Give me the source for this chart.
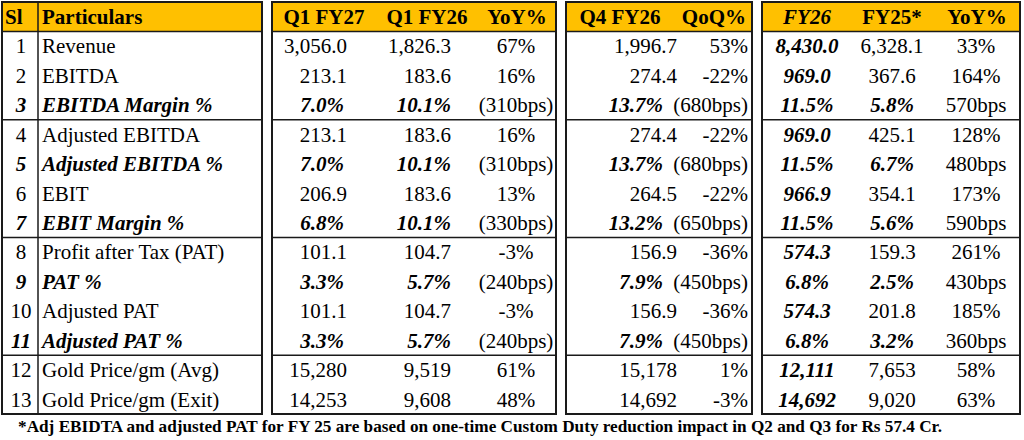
<!DOCTYPE html>
<html>
<head>
<meta charset="utf-8">
<script src="https://cdn.jsdelivr.net/npm/d3@7"></script>
<style>
  html, body { margin: 0; padding: 0; background: #fff; }
  svg text { font-family: 'Liberation Serif', 'Times New Roman', serif; fill: #000; }
</style>
</head>
<body>
<script>
// Table data, one array per column
const slNo = [1, 2, 3, 4, 5, 6, 7, 8, 9, 10, 11, 12, 13];
const particulars = [
    'Revenue',
    'EBITDA',
    'EBITDA Margin %',
    'Adjusted EBITDA',
    'Adjusted EBITDA %',
    'EBIT',
    'EBIT Margin %',
    'Profit after Tax (PAT)',
    'PAT %',
    'Adjusted PAT',
    'Adjusted PAT %',
    'Gold Price/gm (Avg)',
    'Gold Price/gm (Exit)',
];
const q1fy27 = [3056.0, 213.1, 7.0, 213.1, 7.0, 206.9, 6.8, 101.1, 3.3, 101.1, 3.3, 15280, 14253];
const q1fy26 = [1826.3, 183.6, 10.1, 183.6, 10.1, 183.6, 10.1, 104.7, 5.7, 104.7, 5.7, 9519, 9608];
const yoyQ = [67, 16, -310, 16, -310, 13, -330, -3, -240, -3, -240, 61, 48];
const q4fy26 = [1996.7, 274.4, 13.7, 274.4, 13.7, 264.5, 13.2, 156.9, 7.9, 156.9, 7.9, 15178, 14692];
const qoq = [53, -22, -680, -22, -680, -22, -650, -36, -450, -36, -450, 1, -3];
const fy26 = [8430.0, 969.0, 11.5, 969.0, 11.5, 966.9, 11.5, 574.3, 6.8, 574.3, 6.8, 12111, 14692];
const fy25 = [6328.1, 367.6, 5.8, 425.1, 6.7, 354.1, 5.6, 159.3, 2.5, 201.8, 3.2, 7653, 9020];
const yoyFY = [33, 164, 570, 128, 480, 173, 590, 261, 430, 185, 360, 58, 63];

const headers = ['Sl', 'Particulars', 'Q1 FY27', 'Q1 FY26', 'YoY%', 'Q4 FY26', 'QoQ%', 'FY26', 'FY25*', 'YoY%'];
const marginRows = [3, 5, 7, 9, 11]; // rows holding % values, change in bps
const priceRows = [12, 13];          // whole-number rows
const groupEnds = [3, 7, 11];        // a rule is drawn under these rows
const footnote =
    '*Adj EBIDTA and adjusted PAT for FY 25 are based on one-time Custom Duty reduction impact in Q2 and Q3 for Rs 57.4 Cr.';

// Formatting helpers
const fmtAmt = d3.format(',.1f');
const fmtInt = d3.format(',d');
function fmtValue(v, sl) {
    if (marginRows.includes(sl)) return d3.format('.1f')(v) + '%';
    if (priceRows.includes(sl)) return fmtInt(v);
    return fmtAmt(v);
}
function fmtChange(v, sl) {
    if (marginRows.includes(sl)) {
        return v < 0 ? '(' + Math.abs(v) + 'bps)' : v + 'bps';
    }
    return v + '%';
}

// Layout
const width = 1024;
const height = 440;
const fontSize = 21;
const headFill = '#ffc000';
const lineColor = '#1a1a1a';

const blocks = [
    { x0: 2, x1: 262 },
    { x0: 272, x1: 556 },
    { x0: 566, x1: 752 },
    { x0: 762, x1: 1020 },
];

// columns: value position + anchor, header position + anchor
// pctShift moves the % rows of right-aligned columns (Excel padding)
const columns = [
    { key: 'sl', data: slNo, x: 21, anchor: 'middle', hx: 5, hanchor: 'start' },
    { key: 'part', data: particulars, x: 42, anchor: 'start', hx: 42, hanchor: 'start' },
    { key: 'q1fy27', data: q1fy27, x: 347, anchor: 'end', hx: 324, hanchor: 'middle', value: true, pctShift: -3 },
    { key: 'q1fy26', data: q1fy26, x: 451, anchor: 'end', hx: 427, hanchor: 'middle', value: true },
    { key: 'yoyQ', data: yoyQ, x: 516, anchor: 'middle', hx: 517, hanchor: 'middle', change: true },
    { key: 'q4fy26', data: q4fy26, x: 677, anchor: 'end', hx: 620, hanchor: 'middle', value: true, pctShift: -14 },
    { key: 'qoq', data: qoq, x: 748, anchor: 'end', hx: 746, hanchor: 'end', change: true },
    { key: 'fy26', data: fy26, x: 807, anchor: 'middle', hx: 807, hanchor: 'middle', value: true, always: true },
    { key: 'fy25', data: fy25, x: 892, anchor: 'middle', hx: 892, hanchor: 'middle', value: true },
    { key: 'yoyFY', data: yoyFY, x: 976, anchor: 'middle', hx: 977, hanchor: 'middle', change: true },
];

const yScale = d3
    .scaleBand()
    .domain(['head'].concat(slNo))
    .range([2, 414])
    .padding(0);

const svg = d3
    .select('body')
    .append('svg')
    .attr('width', width)
    .attr('height', height);

// header bands
svg.selectAll('rect.head')
    .data(blocks)
    .join('rect')
    .attr('class', 'head')
    .attr('x', (b) => b.x0)
    .attr('y', yScale('head'))
    .attr('width', (b) => b.x1 - b.x0)
    .attr('height', yScale.bandwidth())
    .attr('fill', headFill);

// group rules (header bottom + group ends)
const ruleYs = [yScale(1)].concat(groupEnds.map((r) => yScale(r) + yScale.bandwidth()));
blocks.forEach((b) => {
    svg.selectAll(null)
        .data(ruleYs)
        .join('line')
        .attr('x1', b.x0)
        .attr('x2', b.x1)
        .attr('y1', (y) => y)
        .attr('y2', (y) => y)
        .attr('stroke', lineColor)
        .attr('stroke-width', 1.5);
});

// Sl | Particulars divider
svg.append('line')
    .attr('x1', 38)
    .attr('x2', 38)
    .attr('y1', yScale('head'))
    .attr('y2', yScale(13) + yScale.bandwidth())
    .attr('stroke', lineColor)
    .attr('stroke-width', 1.5);

// outer block frames
svg.selectAll('rect.frame')
    .data(blocks)
    .join('rect')
    .attr('class', 'frame')
    .attr('x', (b) => b.x0)
    .attr('y', yScale('head'))
    .attr('width', (b) => b.x1 - b.x0)
    .attr('height', yScale(13) + yScale.bandwidth() - yScale('head'))
    .attr('fill', 'none')
    .attr('stroke', lineColor)
    .attr('stroke-width', 2);

const midY = (k) => yScale(k) + yScale.bandwidth() / 2;

// header texts
svg.selectAll('text.hdr')
    .data(columns)
    .join('text')
    .attr('class', 'hdr')
    .attr('x', (c) => c.hx)
    .attr('y', midY('head'))
    .attr('dy', '0.35em')
    .attr('text-anchor', (c) => c.hanchor)
    .style('font-size', fontSize + 'px')
    .style('font-weight', 'bold')
    .style('font-style', (c) => (c.always ? 'italic' : 'normal'))
    .text((c, i) => headers[i]);

// body cells
const cells = [];
columns.forEach((c) => {
    slNo.forEach((sl, i) => {
        const margin = marginRows.includes(sl);
        let txt;
        if (c.value) txt = fmtValue(c.data[i], sl);
        else if (c.change) txt = fmtChange(c.data[i], sl);
        else txt = String(c.data[i]);
        const emph = c.always || (margin && !c.change);
        const x = c.x + (margin && c.pctShift ? c.pctShift : 0);
        cells.push({ col: c, sl: sl, txt: txt, emph: emph, x: x });
    });
});

svg.selectAll('text.cell')
    .data(cells)
    .join('text')
    .attr('class', 'cell')
    .attr('x', (d) => d.x)
    .attr('y', (d) => midY(d.sl))
    .attr('dy', '0.35em')
    .attr('text-anchor', (d) => d.col.anchor)
    .style('font-size', fontSize + 'px')
    .style('font-weight', (d) => (d.emph ? 'bold' : 'normal'))
    .style('font-style', (d) => (d.emph ? 'italic' : 'normal'))
    .text((d) => d.txt);

// footnote
svg.append('text')
    .attr('x', 480)
    .attr('y', 426)
    .attr('dy', '0.35em')
    .attr('text-anchor', 'middle')
    .style('font-size', '17.2px')
    .style('font-weight', 'bold')
    .text(footnote);
</script>
</body>
</html>
